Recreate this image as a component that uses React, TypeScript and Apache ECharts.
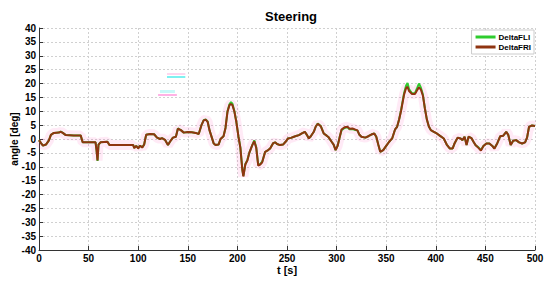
import React, { useEffect, useRef } from "react";
import * as echarts from "echarts";

const tValues = [
  0, 2, 4, 7, 10, 12, 15, 20, 22, 24, 27, 35, 42, 44, 57, 58, 59, 60, 62, 69, 71, 95, 96, 98, 100, 102, 104, 106, 108, 112,
  116, 119, 122, 124, 127, 130, 132, 135, 138, 140, 143, 146, 150, 154, 158, 161, 164, 166, 168, 170, 172, 176, 178, 181,
  183, 186, 188, 190, 192, 193.5, 195, 197, 199, 201, 203, 205, 206, 208, 210, 212, 215, 217, 219, 221, 223, 225, 228, 231,
  233, 236, 238, 240, 243, 246, 249, 251, 254, 257, 260, 262, 265, 268, 270, 272, 274, 277, 279, 281, 284, 287, 290, 292,
  295, 297, 299, 301, 303, 305, 308, 311, 313, 316, 319, 321, 323, 325, 329, 332, 335, 338, 340, 342, 344, 347, 350, 353,
  356, 359, 361, 363, 365, 368, 370, 371.5, 373, 376, 379, 381, 383, 385, 387, 389, 391, 393, 395, 398, 401, 404, 408, 411,
  414, 417, 419, 422, 425, 427, 429, 431, 433, 436, 438, 440, 443, 445.5, 448, 451, 454, 457, 459, 462, 465, 468, 471, 473,
  475.5, 478, 481, 484, 487, 490, 492, 494, 497, 500,
];

const deltaFLI = [
  -0.4, -1.5, -2.4, -2, -0.5, 1.5, 2.2, 2.3, 2.7, 2.2, 1.4, 1.3, 1.3, -1.2, -1.2, -4, -7.9, -2, -1.2, -1, -2.2, -2.2, -3.2,
  -2.5, -3.3, -2.4, -3, -2, 1.5, 1.8, 1.7, 0.5, 0, 0.3, -0.3, -2.2, -1, 0.5, 0.8, 3.8, 3.2, 2.3, 2.5, 2.4, 2.2, 1.8, 5.2,
  6.8, 7.1, 6.3, 3, -1.5, -2.2, -2, 0, 1, 4, 10, 12.5, 13.3, 12.7, 10, 6, 1, -3, -11, -13.3, -9, -7.6, -5, -2.2, -0.5, -3,
  -9.4, -9, -8.2, -4.6, -4, -3.4, -1.5, -1.2, -1.8, -2.2, -2, -0.8, 0.2, 0.4, 0.8, 1.2, 1.4, 2, 2.6, 1.5, 0.2, 1, 2.6, 4.5,
  5.6, 4.7, 2, 1.2, 0.6, -1, -2, -4, -2.5, 0.5, 3.2, 4, 4.2, 3.5, 3.6, 3.2, 3.1, 1.5, 0.8, 0.5, 1, 1.6, 2, 0.8, -2, -4.6,
  -4, -2.5, -1, 0.2, 3.5, 4.4, 7, 10.4, 16.5, 19.2, 20.2, 18, 16.5, 16.5, 18.2, 20, 18.5, 16, 11, 7, 4.5, 3.2, 2.6, 2, 1.2,
  0.2, -2, -3.4, -3.4, -1.5, 0.5, 0.2, -0.4, 0.8, -2.2, 0.8, 0.3, -1, -2.2, -3, -4, -2.5, -1.6, -1.6, -2.5, -3.4, -1.5, 1,
  1.2, 2.6, 1.5, -2.2, -0.6, -0.4, -1.2, -1.6, -1.2, 0.5, 4.4, 4.9, 4.7,
];

const deltaFRI = [
  -0.4, -1.5, -2.4, -2, -0.5, 1.5, 2.2, 2.3, 2.6, 2.2, 1.4, 1.3, 1.3, -1.2, -1.2, -4, -7.7, -2, -1.2, -1, -2.2, -2.2, -3.3,
  -2.5, -3.4, -2.4, -3.1, -2, 1.5, 1.8, 1.7, 0.5, 0, 0.3, -0.3, -2.2, -1, 0.5, 0.8, 3.7, 3.2, 2.3, 2.5, 2.4, 2.2, 1.8, 5.2,
  6.7, 7, 6.2, 3, -1.5, -2.2, -2, 0, 1, 4, 9.8, 12.2, 12.6, 12.2, 9.8, 6, 1, -3.2, -11.3, -13.5, -9.2, -7.8, -5, -2.2, -0.8,
  -3.2, -9.6, -9.2, -8.4, -4.6, -4, -3.4, -1.5, -1.2, -1.8, -2.2, -2, -0.8, 0.2, 0.4, 0.8, 1.2, 1.4, 2, 2.6, 1.5, 0.2, 1,
  2.6, 4.5, 5.5, 4.6, 2, 1.2, 0.6, -1, -2, -4, -2.5, 0.5, 3.4, 4.2, 4.4, 3.7, 3.8, 3.4, 3.1, 1.5, 0.8, 0.5, 1, 1.6, 2, 0.8,
  -2, -4.6, -4, -2.5, -1, 0.2, 3.5, 4.4, 7, 10.2, 16, 18.3, 18.8, 17.3, 16.2, 16.2, 17.5, 18.6, 17.8, 15.6, 11, 7, 4.5, 3.2,
  2.6, 2, 1.2, 0.2, -2, -3.4, -3.4, -1.5, 0.5, 0.2, -0.4, 0.8, -2.2, 0.8, 0.3, -1, -2.2, -3.2, -4.2, -2.5, -1.6, -1.6, -2.5,
  -3.5, -1.5, 1, 1.2, 2.6, 1.5, -2.2, -0.6, -0.4, -1.2, -1.6, -1.2, 0.5, 4.4, 4.9, 4.7,
];

const xMin = 0;
const xMax = 500;
const xStep = 50;
const yMin = -40;
const yMax = 40;
const yStep = 5;

const seriesNames = ["DeltaFLI", "DeltaFRI"];
const font = "'Liberation Sans', Arial, sans-serif";

export default function App() {
  const ref = useRef<HTMLDivElement>(null);

  useEffect(() => {
    if (!ref.current) return;
    const chart = echarts.init(ref.current, null, { renderer: "svg" });
    const fli = tValues.map((t, i) => [t, deltaFLI[i]]);
    const fri = tValues.map((t, i) => [t, deltaFRI[i]]);
    chart.setOption({
      animation: false,
      backgroundColor: "#ffffff",
      title: {
        text: "Steering",
        left: 286,
        top: 5,
        textAlign: "center",
        textStyle: { fontFamily: font, fontWeight: "bold", fontSize: 13, color: "#000" },
      },
      legend: {
        data: seriesNames,
        orient: "vertical",
        right: 16,
        top: 30,
        backgroundColor: "#ffffff",
        borderColor: "#cccccc",
        borderWidth: 1,
        padding: [3, 3, 3, 4],
        itemGap: 2,
        itemWidth: 20,
        itemHeight: 3,
        icon: "rect",
        textStyle: { fontFamily: font, fontWeight: "bold", fontSize: 8, color: "#000", padding: [0, 0, 0, -2] },
      },
      grid: { left: 39, right: 15, top: 28, bottom: 31, containLabel: false, outerBoundsMode: "none" },
      xAxis: {
        type: "value",
        min: xMin,
        max: xMax,
        interval: xStep,
        name: "t [s]",
        nameLocation: "middle",
        nameGap: 14,
        nameMoveOverlap: false,
        nameTextStyle: { fontFamily: font, fontWeight: "bold", fontSize: 11, color: "#000" },
        axisLine: { show: true, onZero: false, lineStyle: { color: "#333", width: 1 } },
        axisTick: { show: true, inside: true, length: 4, lineStyle: { color: "#333" } },
        axisLabel: { fontFamily: font, fontWeight: "bold", fontSize: 10, color: "#000", margin: 3 },
        splitLine: { show: true, lineStyle: { color: "#d0d0d0", type: [2, 2], width: 1 } },
      },
      yAxis: {
        type: "value",
        min: yMin,
        max: yMax,
        interval: yStep,
        name: "angle [deg]",
        nameLocation: "middle",
        nameGap: 20,
        nameMoveOverlap: false,
        nameRotate: 90,
        nameTextStyle: { fontFamily: font, fontWeight: "bold", fontSize: 10, color: "#000" },
        axisLine: { show: true, onZero: false, lineStyle: { color: "#333", width: 1 } },
        axisTick: { show: true, inside: true, length: 4, lineStyle: { color: "#333" } },
        axisLabel: { fontFamily: font, fontWeight: "bold", fontSize: 10, color: "#000", margin: 3 },
        splitLine: { show: true, lineStyle: { color: "#d0d0d0", type: [2, 2], width: 1 } },
      },
      series: [
        {
          name: "glow",
          type: "line",
          data: fri,
          showSymbol: false,
          silent: true,
          lineStyle: { color: "rgba(255,80,180,0.12)", width: 10 },
          z: 1,
          markLine: {
            silent: true,
            symbol: "none",
            label: { show: false },
            data: [
              [
                { coord: [129, 22.4], lineStyle: { color: "#7ff0f0", width: 2, type: "solid" } },
                { coord: [147.5, 22.4] },
              ],
              [
                { coord: [129, 23.6], lineStyle: { color: "#ffd6ee", width: 2, type: "solid" } },
                { coord: [147.5, 23.6] },
              ],
              [
                { coord: [122, 17.2], lineStyle: { color: "#c8f8f8", width: 3, type: "solid" } },
                { coord: [137, 17.2] },
              ],
              [
                { coord: [120, 16.0], lineStyle: { color: "#ff99dd", width: 1.5, type: "solid" } },
                { coord: [139, 16.0] },
              ],
            ],
          },
        },
        {
          name: "DeltaFLI",
          type: "line",
          data: fli,
          showSymbol: false,
          itemStyle: { color: "#2ecc2e" },
          lineStyle: { color: "#2ecc2e", width: 2 },
          z: 2,
        },
        {
          name: "DeltaFRI",
          type: "line",
          data: fri,
          showSymbol: false,
          itemStyle: { color: "#8f3410" },
          lineStyle: { color: "#8f3410", width: 2 },
          z: 3,
        },
      ],
    });
    return () => chart.dispose();
  }, []);

  return <div ref={ref} style={{ width: 550, height: 281, position: "absolute", left: 0, top: 0 }} />;
}
